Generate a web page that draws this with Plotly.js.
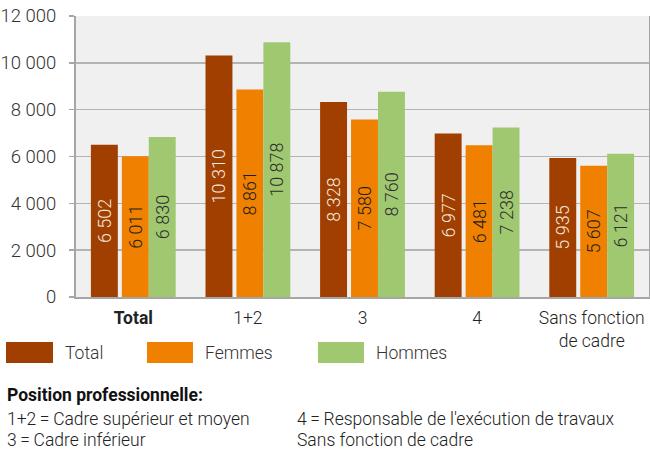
<!DOCTYPE html>
<html>
<head>
<meta charset="utf-8">
<script src="https://cdn.plot.ly/plotly-3.0.1.min.js"></script>
<style>html,body{margin:0;padding:0;background:#fff;}#chart{width:650px;height:451px;}</style>
</head>
<body>
<div id="chart"></div>
<script>
// ---- data ----
var categories = ['Total', '1+2', '3', '4', 'Sans fonction de cadre'];
var tickLabels = ['<b>Total</b>', '1+2', '3', '4', 'Sans fonction<br>de cadre'];
var seriesNames = ['Total', 'Femmes', 'Hommes'];
var totalValues = [6502, 10310, 8328, 6977, 5935];
var femmesValues = [6011, 8861, 7580, 6481, 5607];
var hommesValues = [6830, 10878, 8760, 7238, 6121];
var yTickVals = [0, 2000, 4000, 6000, 8000, 10000, 12000];
var noteTitle = 'Position professionnelle:';
var noteCol1 = ['1+2\u2009=\u2009Cadre supérieur et moyen', '3\u2009=\u2009Cadre inférieur'];
var noteCol2 = ['4\u2009=\u2009Responsable de l\'exécution de travaux', 'Sans fonction de cadre'];

// ---- styles ----
var colors = ['#A03F00', '#F08000', '#A0C870'];
var labelColors = ['#f3e8df', '#1e1e1e', '#2e2e2e'];
var offsets = [-0.37, -0.10, 0.135];
var barWidth = 0.235;
var FONT = 'Roboto, "Noto Sans", sans-serif';

var M = {l: 76, r: 1, t: 16, b: 154};
var W = 650 - M.l - M.r, H = 451 - M.t - M.b;
function px(x) { return (x - M.l) / W; }
function py(y) { return (M.t + H - y) / H; }

var allValues = [totalValues, femmesValues, hommesValues];
var traces = allValues.map(function (vals, i) {
  return {
    type: 'bar',
    name: seriesNames[i],
    x: categories,
    y: vals,
    marker: {color: colors[i], line: {width: 0}},
    offset: offsets[i],
    width: barWidth,
    texttemplate: '%{y:,}',
    textposition: 'inside',
    insidetextanchor: 'middle',
    textangle: -90,
    insidetextfont: {family: FONT, size: 18, color: labelColors[i], weight: 300},
    constraintext: 'none',
    hoverinfo: 'skip'
  };
});

var shapes = [];
var annotations = [];
var legX = [[6, 53, 63], [147, 193, 203], [318, 364, 374]];
seriesNames.forEach(function (n, i) {
  shapes.push({type: 'rect', xref: 'paper', yref: 'paper',
    x0: px(legX[i][0]), x1: px(legX[i][1]), y0: py(363), y1: py(342),
    fillcolor: colors[i], line: {width: 0}});
  annotations.push({xref: 'paper', yref: 'paper', x: px(legX[i][2]), y: py(353),
    xanchor: 'left', yanchor: 'middle', showarrow: false, text: n,
    font: {family: FONT, size: 17.5, color: '#333', weight: 300}});
});
annotations.push({xref: 'paper', yref: 'paper', x: px(5), y: py(395),
  xanchor: 'left', yanchor: 'middle', showarrow: false, text: '<b>' + noteTitle + '</b>',
  font: {family: FONT, size: 17.5, color: '#111'}});
var noteY = [419, 440];
noteCol1.forEach(function (t, i) {
  annotations.push({xref: 'paper', yref: 'paper', x: px(5), y: py(noteY[i]),
    xanchor: 'left', yanchor: 'middle', showarrow: false, text: t,
    font: {family: FONT, size: 17.5, color: '#222', weight: 300}});
});
noteCol2.forEach(function (t, i) {
  annotations.push({xref: 'paper', yref: 'paper', x: px(295), y: py(noteY[i]),
    xanchor: 'left', yanchor: 'middle', showarrow: false, text: t,
    font: {family: FONT, size: 17.5, color: '#222', weight: 300}});
});

var layout = {
  width: 650, height: 451,
  margin: {l: M.l, r: M.r, t: M.t, b: M.b, autoexpand: false},
  paper_bgcolor: '#ffffff',
  plot_bgcolor: '#f0f0f0',
  separators: ', ',
  showlegend: false,
  barmode: 'group',
  font: {family: FONT, size: 17.5, color: '#222'},
  xaxis: {
    type: 'category',
    tickmode: 'array', tickvals: categories, ticktext: tickLabels,
    showgrid: false, ticks: '', showline: true, linecolor: '#a6a6a6', linewidth: 2,
    tickfont: {family: FONT, size: 17.5, color: '#222', weight: 300},
    ticklabelstandoff: 4,
    range: [-0.5, 4.5], fixedrange: true
  },
  yaxis: {
    range: [0, 12000], tickmode: 'array', tickvals: yTickVals,
    tickformat: ',', showgrid: true, gridcolor: '#b4b4b4', gridwidth: 1.5,
    showline: true, mirror: true, linecolor: '#a6a6a6', linewidth: 2,
    ticks: 'outside', ticklen: 5, tickcolor: '#a6a6a6', tickwidth: 1.5,
    ticklabelstandoff: 9,
    zeroline: false,
    tickfont: {family: FONT, size: 18.5, color: '#333', weight: 300},
    fixedrange: true
  },
  shapes: shapes,
  annotations: annotations
};

Plotly.newPlot('chart', traces, layout, {displayModeBar: false, staticPlot: true});
</script>
</body>
</html>
